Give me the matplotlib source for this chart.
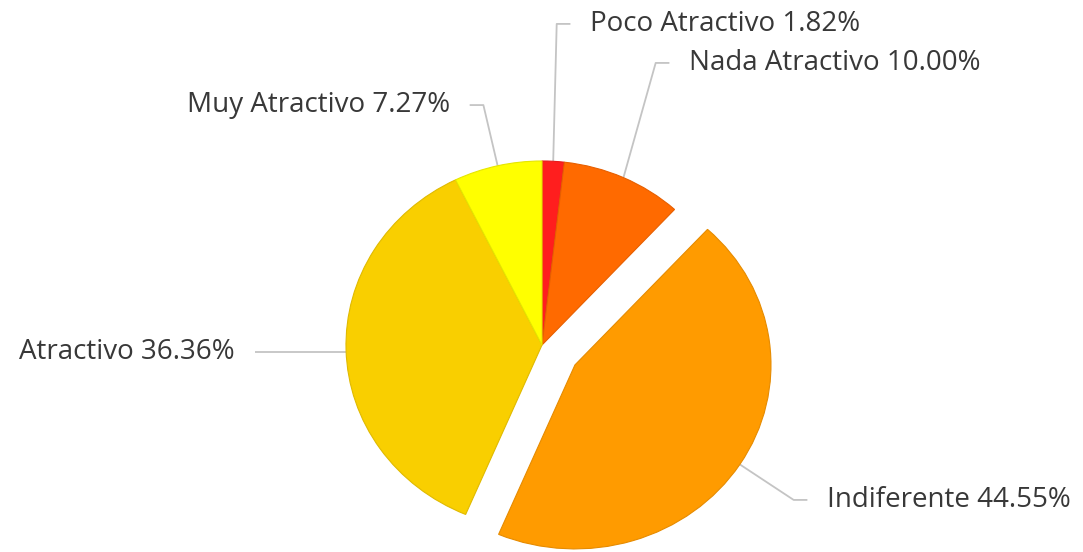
"""
Pie chart of how attractive respondents found the offer.
"""

import numpy as np
import matplotlib
matplotlib.use("Agg")
import matplotlib.pyplot as plt
from matplotlib.colors import to_rgb


CATEGORIES = ["Poco Atractivo", "Nada Atractivo", "Indiferente", "Atractivo", "Muy Atractivo"]
SHARES = [1.82, 10.00, 44.55, 36.36, 7.27]
COLORS = ["#FF1E1E", "#FF6A00", "#FF9B00", "#F9CF00", "#FFFF00"]
EXPLODE = [0, 0, 0.2, 0, 0]

# label anchor (data units), alignment -- same order as CATEGORIES
LABEL_POS = [
    (0.245, 1.745, "left"),
    (0.750, 1.533, "left"),
    (1.454, -0.842, "left"),
    (-1.566, -0.038, "right"),
    (-0.469, 1.304, "right"),
]

TEXT_COLOR = "#383838"
LINE_COLOR = "#C4C4C4"


def darker(color, f=0.85):
    r, g, b = to_rgb(color)
    return (r * f, g * f, b * f)


def main() -> None:
    plt.rcParams["font.family"] = ["Open Sans", "DejaVu Sans"]

    fig = plt.figure(figsize=(10.83, 5.52), dpi=100)
    ax = fig.add_axes([0, 0, 1, 1])

    wedges, _ = ax.pie(
        SHARES,
        colors=COLORS,
        explode=EXPLODE,
        startangle=90,
        counterclock=False,
        radius=1.0,
        wedgeprops=dict(linewidth=0.8),
    )
    for w, c in zip(wedges, COLORS):
        w.set_edgecolor(darker(c, 0.9))

    # pie is drawn slightly wider than tall
    ax.set_aspect("auto")
    ax.set_xlim(-542 / 196, (1083 - 542) / 196)
    ax.set_ylim((345 - 552) / 184, 345 / 184)
    ax.axis("off")

    gap = 0.10
    hlen = 0.07
    for w, name, share, (tx, ty, ha) in zip(wedges, CATEGORIES, SHARES, LABEL_POS):
        mid = np.deg2rad((w.theta1 + w.theta2) / 2)
        cx, cy = w.center
        ax0 = cx + w.r * np.cos(mid)
        ay0 = cy + w.r * np.sin(mid)
        side = 1 if ha == "left" else -1
        end_x = tx - side * gap
        elbow_x = end_x - side * hlen
        if abs(ay0 - ty) < 0.05:
            # nearly level with the label: one straight leader
            elbow_x = end_x
            ay0 = ty
        ax.plot([ax0, elbow_x, end_x], [ay0, ty, ty],
                color=LINE_COLOR, linewidth=1.3, solid_capstyle="butt", zorder=0)
        ax.text(tx, ty, f"{name} {share:.2f}%", ha=ha, va="center",
                fontsize=20, color=TEXT_COLOR)

    fig.savefig("out.png", dpi=100, facecolor="white")
    plt.close(fig)


if __name__ == "__main__":
    main()
